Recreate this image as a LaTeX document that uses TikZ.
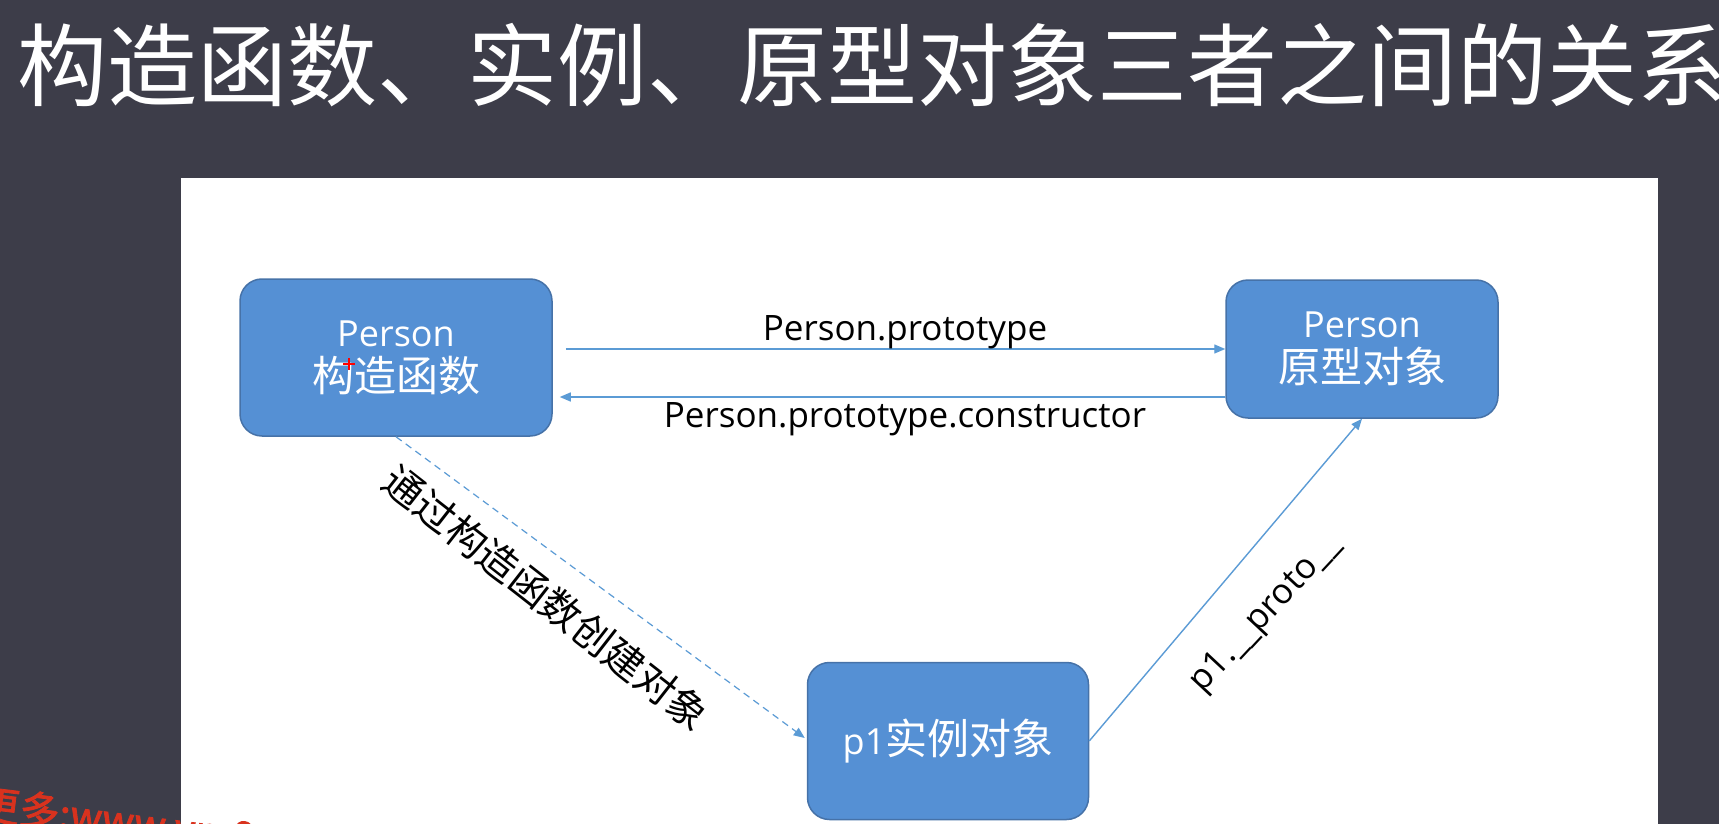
\documentclass[tikz,border=0pt]{standalone}
\usepackage{fontspec}
\setmainfont{Open Sans}
\newfontfamily\cjk{Noto Sans CJK SC}
\newfontfamily\cjkb[FakeBold=2]{Noto Sans CJK SC}
\usetikzlibrary{arrows.meta}
\definecolor{bg}{HTML}{3D3D49}
\definecolor{boxfill}{HTML}{5590D4}
\definecolor{boxline}{HTML}{4672A8}
\definecolor{arrowc}{HTML}{5B9BD5}
\definecolor{wmred}{HTML}{D9321E}
\tikzset{
  box/.style={draw=boxline, fill=boxfill, line width=1.5pt, rounded corners=22pt,
    text=white, align=center, inner sep=0pt, font=\fontsize{36}{45}\selectfont},
  arr/.style={draw=arrowc, line width=1.4pt, -{Triangle[length=11pt,width=9pt]}},
  darr/.style={arr, line width=1.2pt, dash pattern=on 7pt off 5pt},
  lab/.style={inner sep=0pt, text=black, font=\fontsize{35}{40}\selectfont},
  cjklab/.style={inner sep=0pt, text=black, font=\cjk\fontsize{40}{44}\selectfont},
}
\newcommand{\bigcjk}[1]{{\cjk\fontsize{42}{45}\selectfont #1}}
\begin{document}
\begin{tikzpicture}[x=1pt,y=-1pt]
\useasboundingbox (0,0) rectangle (1719,824);
\clip (0,0) rectangle (1719,824);
\fill[bg] (0,0) rectangle (1719,824);
\fill[white] (181,178) rectangle (1658,824);

\node[anchor=base west, inner sep=0pt, text=white, font=\cjk\fontsize{90}{100}\selectfont] (title) at (17,100) {构造函数、实例、原型对象三者之间的关系};

\node[box, minimum width=312pt, minimum height=157pt] (ctor) at (396,357.5) {Person\\\bigcjk{构造函数}};
\node[box, minimum width=272pt, minimum height=138pt] (proto) at (1362,349) {Person\\\bigcjk{原型对象}};
\node[box, minimum width=281pt, minimum height=157pt] (inst) at (948,741) {p1\bigcjk{实例对象}};

\draw[arr] ([xshift=13pt,yshift=8.5pt]ctor.east) -- (proto.west);
\draw[arr] ([yshift=-48pt]proto.west) -- ([xshift=7pt,yshift=-39.5pt]ctor.east);
\draw[darr] (ctor.south) -- ([xshift=-2pt,yshift=3pt]inst.west);
\draw[arr] (inst.east) -- (proto.south);

\node[lab, anchor=base] (l1) at (905,340) {Person.prototype};
\node[lab, anchor=base] (l2) at (905,427) {Person.prototype.constructor};
\node[cjklab, rotate=-38] (l3) at (546,598) {通过构造函数创建对象};
\node[lab, rotate=47] (l4) at (1266,614) {p1.\_\_proto\_\_};

% cursor mark
\draw[red, line width=2pt] (343,364) -- (355,364) (349,358) -- (349,370);

% watermark
\node[anchor=base west, inner sep=0pt, text=wmred, rotate=-7, font=\cjkb\fontsize{40}{42}\selectfont] (wm) at (-22,818) {更多:www.ym8.};
\end{tikzpicture}
\end{document}
